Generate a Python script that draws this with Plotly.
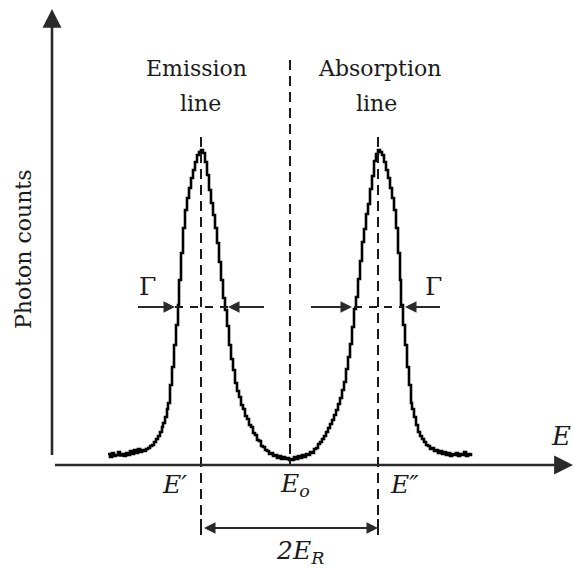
import plotly.graph_objects as go

# ---- data (channel number vs photon counts) ----
emission_ch = [56, 58, 60, 62, 64, 66, 68, 70, 72, 74, 76, 78, 80, 82, 84, 86, 88, 90, 92, 94,
               96, 98, 100, 102, 104, 106, 108, 110, 111, 113, 115, 116, 118, 120, 122, 124, 126,
               127, 129, 131, 133, 135, 137, 139, 141, 143, 145, 147, 149, 151, 153, 155, 157,
               159, 161, 163, 165, 167, 169, 171, 173, 175, 177, 179, 181, 183, 185, 187, 189,
               191, 193, 195, 197, 199, 201, 203, 205, 207, 209, 211, 213, 215, 217, 219, 221,
               223, 225, 227, 229, 231, 233, 235, 237]
emission_counts = [110, 80, 120, 90, 100, 130, 95, 110, 90, 120, 100, 140, 110, 150, 120, 160, 130,
                   150, 140, 160, 170, 190, 200, 230, 260, 290, 330, 380, 420, 480, 560, 620, 800,
                   980, 1200, 1400, 1600, 1850, 2120, 2370, 2550, 2670, 2770, 2870, 2950, 3030,
                   3100, 3130, 3150, 3120, 3030, 2900, 2750, 2620, 2500, 2370, 2220, 2030, 1850,
                   1670, 1550, 1390, 1200, 1060, 950, 820, 740, 680, 600, 560, 490, 460, 400, 380,
                   320, 300, 250, 240, 190, 180, 150, 140, 110, 120, 90, 100, 70, 90, 60, 80, 60,
                   70, 50]
absorption_ch = [238, 240, 242, 244, 246, 248, 250, 252, 254, 256, 258, 260, 262, 264, 266, 268,
                 270, 272, 274, 276, 278, 280, 282, 284, 286, 288, 290, 292, 294, 296, 298, 300,
                 302, 304, 306, 308, 310, 312, 314, 316, 318, 320, 322, 324, 326, 328, 330, 332,
                 334, 336, 338, 340, 342, 344, 346, 348, 349, 351, 353, 355, 357, 359, 360, 362,
                 364, 366, 368, 370, 372, 374, 376, 378, 380, 382, 384, 386, 388, 390, 392, 394,
                 396, 398, 400, 402, 404, 406, 408, 410, 412, 414, 416, 418, 419]
absorption_counts = [60, 50, 80, 60, 90, 70, 100, 80, 110, 100, 130, 120, 160, 170, 210, 230, 260,
                     290, 330, 370, 410, 450, 500, 550, 610, 670, 750, 830, 960, 1080, 1210, 1380,
                     1560, 1680, 1860, 2040, 2230, 2360, 2510, 2610, 2760, 2890, 3040, 3110, 3150,
                     3130, 3100, 3030, 2950, 2870, 2770, 2670, 2550, 2370, 2120, 1850, 1600, 1400,
                     1200, 980, 800, 620, 560, 480, 400, 330, 290, 260, 230, 200, 190, 160, 170,
                     140, 150, 120, 140, 110, 130, 100, 120, 90, 110, 100, 120, 90, 110, 100, 130,
                     90, 110, 100, 120]

E_prime = 149       # emission line centre (channel)
E_zero = 238        # E0
E_dprime = 326      # absorption line centre
half_max = 1580     # level of the FWHM arrows
gamma_left = [123, 176]    # half-max crossings, emission line
gamma_right = [302, 351]   # half-max crossings, absorption line

x_range = [-52, 522]
y_range = [-1050, 4650]

INK = "#1a1a1a"
SERIF = "DejaVu Serif"

fig = go.Figure()
fig.add_trace(go.Scatter(x=emission_ch + absorption_ch,
                         y=emission_counts + absorption_counts,
                         mode="lines", line=dict(color="black", width=2.6, shape="hv"),
                         hoverinfo="skip", showlegend=False))

shapes = []
# dashed verticals through line centres
for xc in (E_prime, E_dprime):
    shapes.append(dict(type="line", x0=xc, x1=xc, y0=3280, y1=-500,
                       line=dict(color=INK, width=2, dash="10px,6px")))
    shapes.append(dict(type="line", x0=xc, x1=xc, y0=-540, y1=-700,
                       line=dict(color=INK, width=2)))
shapes.append(dict(type="line", x0=E_zero, x1=E_zero, y0=4050, y1=0,
                   line=dict(color=INK, width=2, dash="10px,6px")))
# dashed half-max segments
for a, b in (gamma_left, gamma_right):
    shapes.append(dict(type="line", x0=a, x1=b, y0=half_max, y1=half_max,
                       line=dict(color=INK, width=2, dash="8px,7px")))

annotations = []

def arrow(x_tip, y_tip, x_tail, y_tail, width=2, size=1.0, head=2, side="end"):
    annotations.append(dict(x=x_tip, y=y_tip, ax=x_tail, ay=y_tail,
                            xref="x", yref="y", axref="x", ayref="y",
                            showarrow=True, arrowhead=head, startarrowhead=head,
                            arrowsize=size, startarrowsize=size,
                            arrowwidth=width, arrowcolor="#2a2a2a",
                            arrowside=side, text=" "))

# axes with arrows
arrow(0, 4560, 0, 0, width=2.6, size=1.45)
arrow(521, 0, 0, 0, width=2.6, size=1.45)
# FWHM arrows
arrow(gamma_left[0], half_max, 83, half_max, width=2, size=1.15)
arrow(gamma_left[1], half_max, 215, half_max, width=2, size=1.15)
arrow(gamma_right[0] - 2, half_max, 256, half_max, width=2, size=1.15)
arrow(gamma_right[1] + 2, half_max, 391, half_max, width=2, size=1.15)
# 2E_R double arrow
arrow(E_dprime, -630, E_prime, -630, width=2, size=1.15, side="end+start")

def label(x, y, text, size=22, italic=False, angle=0, xanchor="center"):
    annotations.append(dict(x=x, y=y, xref="x", yref="y", text=text, showarrow=False,
                            textangle=angle, xanchor=xanchor, yanchor="middle",
                            font=dict(family=SERIF, size=size, color=INK,
                                      style="italic" if italic else "normal")))

label(E_prime - 5, 3970, "Emission")
label(E_prime - 1, 3620, "line")
label(E_dprime + 1, 3970, "Absorption")
label(E_dprime - 2, 3620, "line")
label(-29, 2160, "Photon counts", size=22, angle=-90)
label(95, 1790, "Γ", size=25)
label(381, 1790, "Γ", size=25)
label(122, -190, "E′", size=25, italic=True)
label(243, -200, "E<sub>o</sub>", size=25, italic=True)
label(352, -190, "E″", size=25, italic=True)
label(248, -870, "2E<sub>R</sub>", size=25, italic=True)
label(521, 290, "E", size=26, italic=True, xanchor="right")

fig.update_layout(
    width=574, height=570,
    margin=dict(l=0, r=0, t=0, b=0),
    paper_bgcolor="white", plot_bgcolor="white",
    xaxis=dict(range=x_range, visible=False, fixedrange=True),
    yaxis=dict(range=y_range, visible=False, fixedrange=True),
    shapes=shapes, annotations=annotations,
)
fig.write_html("out.html")
